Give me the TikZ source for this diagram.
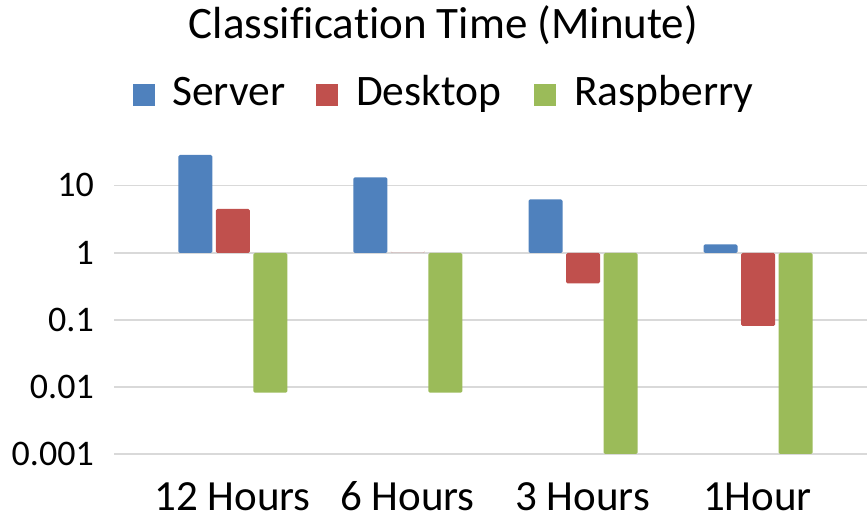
\documentclass[tikz,border=0pt]{standalone}
\usepackage{fontspec}
\setmainfont[Ligatures=NoCommon]{Carlito}
\definecolor{srv}{HTML}{4F81BD}
\definecolor{dsk}{HTML}{C0504D}
\definecolor{rsp}{HTML}{9BBB59}
\definecolor{grid}{HTML}{D9D9D9}
\begin{document}
\begin{tikzpicture}[x=1pt,y=-1pt,
  gridline/.style={draw=grid,line width=1.4pt},
  bar/.style={rounded corners=1.5pt},
  ylab/.style={anchor=base east,inner sep=0pt,font=\fontsize{36}{40}\selectfont},
  xlab/.style={anchor=base,inner sep=0pt,text depth=0pt,font=\fontsize{43}{48}\selectfont},
  leg/.style={anchor=base west,inner sep=0pt,font=\fontsize{43.5}{48}\selectfont},
  ttl/.style={anchor=base,inner sep=0pt,font=\fontsize{45}{50}\selectfont}]
\useasboundingbox (0,0) rectangle (868,518);
% gridlines
\foreach \yy/\lab/\nm in {185.5/10/g1,253/1/g2,320/0.1/g3,387/0.01/g4,454/0.001/g5}{
  \draw[gridline] (114,\yy) -- (867,\yy);
  \node[ylab] (\nm) at (94,\yy+11.5) {\lab};
}
% bars: group start x, server top, desktop end, raspberry end
\foreach \gx/\st/\de/\re in {178.3/155/209/392.7, 353.3/177.3/253/392.7, 528.5/199.3/283.3/454, 703.5/244.3/326/454}{
  \fill[srv,bar] (\gx,253) rectangle (\gx+34,\st);
  \fill[dsk,bar] (\gx+37.5,253) rectangle (\gx+71.5,\de);
  \fill[rsp,bar] (\gx+75,253) rectangle (\gx+109,\re);
}
% category labels
\node[xlab] (c1) at (232.5,510.5) {12 Hours};
\node[xlab] (c2) at (407.5,510.5) {6 Hours};
\node[xlab] (c3) at (582.5,510.5) {3 Hours};
\node[xlab] (c4) at (757.5,510.5) {1Hour};
% title
\node[ttl] (title) at (443.5,38.5) {Classification Time (Minute)};
% legend
\fill[srv] (133,84) rectangle (155,106);
\node[leg] (l1) at (172,106) {Server};
\fill[dsk] (316,84) rectangle (338,106);
\node[leg] (l2) at (356,106) {Desktop};
\fill[rsp] (534,84) rectangle (556,106);
\node[leg] (l3) at (574,106) {Raspberry};
\end{tikzpicture}
\end{document}
